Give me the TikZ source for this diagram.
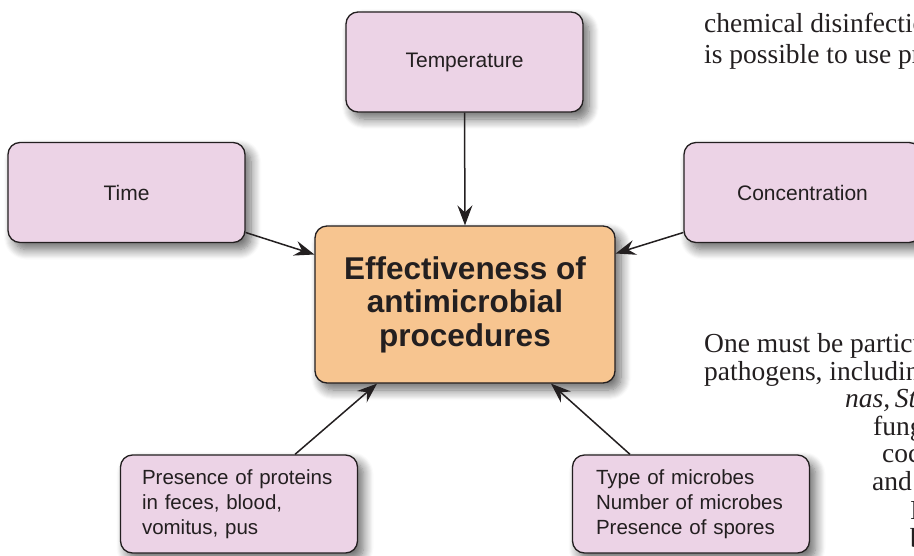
\documentclass[tikz,border=0pt]{standalone}
\usepackage{fontspec}
\setmainfont{Liberation Sans}
\newfontfamily\bodyserif{Liberation Serif}
\usetikzlibrary{arrows.meta,calc,shadows.blur}
\definecolor{boxpink}{HTML}{ECD3E6}
\definecolor{boxorange}{HTML}{F7C590}
\definecolor{ink}{HTML}{231F20}
\begin{document}
\begin{tikzpicture}[x=1pt,y=-1pt,
  softshadow/.style={blur shadow={shadow xshift=6pt, shadow yshift=-7pt,
      shadow blur radius=10pt, shadow blur steps=10, shadow opacity=60}},
  factor/.style={draw=ink, line width=1.3pt, rounded corners=12pt, fill=boxpink,
      minimum width=237pt, minimum height=100pt, inner sep=0pt, text=ink,
      font=\fontsize{21}{25}\selectfont, softshadow},
  listfactor/.style={factor, minimum height=98pt, text width=#1, align=left,
      font=\fontsize{20.5}{25}\selectfont},
  hub/.style={draw=ink, line width=1.3pt, rounded corners=12pt, fill=boxorange,
      minimum width=300pt, minimum height=157pt, inner sep=0pt, text=ink,
      align=center, font=\bfseries\fontsize{31.5}{33.5}\selectfont, softshadow},
  conn/.style={draw=ink, line width=1.5pt,
      -{Stealth[length=20pt,width=15pt,inset=7pt]}},
  bodytext/.style={anchor=base west, inner sep=0pt, text=ink,
      font=\bodyserif\fontsize{27.5}{32}\selectfont},
]
\useasboundingbox (0,0) rectangle (914,555);
\clip (0,0) rectangle (914,555);

% running text of the page around the figure
\node[bodytext] (p1) at (704,32) {chemical disinfection};
\node[bodytext] (p2) at (704,63) {is possible to use proper};
\node[bodytext] (p3) at (704,352) {One must be particularly};
\node[bodytext] (p4) at (704,380) {pathogens, including};
\node[bodytext] (p5) at (845,407) {\itshape nas,\,Staphylococcus};
\node[bodytext] (p6) at (873,435) {fungi};
\node[bodytext] (p7) at (882,462) {cocci};
\node[bodytext] (p8) at (872,490) {and};
\node[bodytext] (p9) at (910,519) {In};
\node[bodytext] (p10) at (910,547) {be};

% factor boxes
\node[hub] (eff) at (465,304.5) {Effectiveness of\\antimicrobial\\procedures};
\node[factor] (temp) at (464.5,62) {Temperature};
\node[factor] (time) at (126.5,192.5) {Time};
\node[factor] (conc) at (802.5,192.5) {Concentration};
\node[listfactor=194pt] (prot) at (239,504)
  {Presence of proteins\\in feces, blood,\\vomitus, pus};
\node[listfactor=190pt] (mic) at (691,504)
  {Type of microbes\\Number of microbes\\Presence of spores};

% influences on the central box
\draw[conn] (temp.south) -- (eff.north);
\draw[conn] ($(time.east)+(0,40)$) -- ($(eff.west)+(0,-50)$);
\draw[conn] ($(conc.west)+(0,40)$) -- ($(eff.east)+(0,-51)$);
\draw[conn] ($(prot.north)+(56,0)$) -- ($(eff.south)+(-88,0)$);
\draw[conn] ($(mic.north)+(-61,0)$) -- ($(eff.south)+(86,0)$);
\end{tikzpicture}
\end{document}
